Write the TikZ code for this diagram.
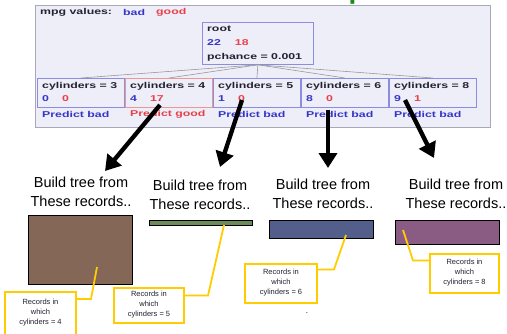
\documentclass[tikz,border=0pt]{standalone}
\usepackage{fontspec}
\setmainfont{Liberation Sans}
\newfontfamily\panelfont[FakeStretch=1.45]{Liberation Sans}
\usetikzlibrary{arrows.meta,calc}
\definecolor{panelbg}{HTML}{EEEEF8}
\definecolor{panelborder}{HTML}{A8A8B8}
\definecolor{cblue}{HTML}{3535C8}
\definecolor{cred}{HTML}{E8404A}
\definecolor{bblue}{HTML}{8C8CE0}
\definecolor{bred}{HTML}{E89898}
\definecolor{dtext}{HTML}{222233}
\definecolor{titlegreen}{HTML}{1A8A1A}
\definecolor{rbrown}{HTML}{856758}
\definecolor{rgreen}{HTML}{6B8C5A}
\definecolor{rblue}{HTML}{545E8A}
\definecolor{rpurple}{HTML}{8A5C84}
\definecolor{cyellow}{HTML}{FFCC00}
\tikzset{
  ptext/.style={font=\panelfont\bfseries\fontsize{8.5}{10}\selectfont, inner sep=0, anchor=west, text=dtext},
  cbox/.style={draw=bblue, line width=0.8pt, fill=panelbg, minimum width=87pt, minimum height=29pt, anchor=north west, inner sep=0},
  rbox/.style={draw=bred, line width=0.8pt, fill=panelbg, minimum width=87pt, minimum height=29pt, anchor=north west, inner sep=0},
  tline/.style={draw=gray!80, line width=0.6pt},
  bigarrow/.style={line width=4.3pt, -{Triangle[length=15pt,width=18pt]}},
  buildlbl/.style={align=center, font=\fontsize{14.5}{19}\selectfont, inner sep=0},
  recbox/.style={draw=black, line width=0.8pt, anchor=north west, inner sep=0},
  callout/.style={draw=cyellow, line width=2pt, fill=white, align=center, inner sep=0, font=\fontsize{7.5}{10}\selectfont, text=dtext},
  leader/.style={draw=cyellow, line width=1.8pt}
}
\begin{document}
\begin{tikzpicture}[x=1pt,y=-1pt]
\useasboundingbox (0,0) rectangle (507,333);
\clip (0,0) rectangle (507,333);
% panel
\node[draw=panelborder, line width=0.8pt, fill=panelbg, minimum width=455pt, minimum height=122pt, anchor=north west, inner sep=0] (panel) at (35,5) {};
\node[anchor=base, font=\bfseries\fontsize{28}{28}\selectfont, text=titlegreen, inner sep=0] (title) at (263,-1.5) {Recursion Step};
\node[ptext] (mpg) at (40,12.5) {mpg values:};
\node[ptext, text=cblue] (mbad) at (123,12.5) {bad};
\node[ptext, text=cred] (mgood) at (156,12.5) {good};
% root
\node[draw=bblue, line width=0.8pt, fill=panelbg, minimum width=111pt, minimum height=42pt, anchor=north west, inner sep=0] (root) at (202,22) {};
\node[ptext] (rootl) at (207,29) {root};
\node[ptext] (rootc) at (207,43) {\textcolor{cblue}{22}\hspace{14pt}\textcolor{cred}{18}};
\node[ptext] (rootp) at (207,57) {pchance = 0.001};
% children
\node[cbox] (c3) at (37,78) {};
\node[rbox] (c4) at (125,78) {};
\node[cbox] (c5) at (213,78) {};
\node[cbox] (c6) at (301,78) {};
\node[cbox] (c8) at (389,78) {};
\foreach \n in {c3,c4,c5,c6,c8} \draw[tline] (root.south) -- (\n.north);
\node[ptext] (t3) at (42,86) {cylinders = 3};
\node[ptext] (n3) at (42,99) {\textcolor{cblue}{0}\hspace{13pt}\textcolor{cred}{0}};
\node[ptext, text=cblue] (p3) at (42,114) {Predict bad};
\node[ptext] (t4) at (130,86) {cylinders = 4};
\node[ptext] (n4) at (130,99) {\textcolor{cblue}{4}\hspace{13pt}\textcolor{cred}{17}};
\node[ptext, text=cred] (p4) at (130,114) {Predict good};
\node[ptext] (t5) at (218,86) {cylinders = 5};
\node[ptext] (n5) at (218,99) {\textcolor{cblue}{1}\hspace{13pt}\textcolor{cred}{0}};
\node[ptext, text=cblue] (p5) at (218,114) {Predict bad};
\node[ptext] (t6) at (306,86) {cylinders = 6};
\node[ptext] (n6) at (306,99) {\textcolor{cblue}{8}\hspace{13pt}\textcolor{cred}{0}};
\node[ptext, text=cblue] (p6) at (306,114) {Predict bad};
\node[ptext] (t8) at (394,86) {cylinders = 8};
\node[ptext] (n8) at (394,99) {\textcolor{cblue}{9}\hspace{13pt}\textcolor{cred}{1}};
\node[ptext, text=cblue] (p8) at (394,114) {Predict bad};
% arrows
\coordinate (a4s) at (160,105); \coordinate (a4e) at (105,171);
\coordinate (a5s) at (242,100); \coordinate (a5e) at (220,167);
\coordinate (a6s) at (328,110); \coordinate (a6e) at (328,168);
\coordinate (a8s) at (405,100); \coordinate (a8e) at (434,158);
\draw[bigarrow] (a4s) -- (a4e);
\draw[bigarrow] (a5s) -- (a5e);
\draw[bigarrow] (a6s) -- (a6e);
\draw[bigarrow] (a8s) -- (a8e);
% build labels
\node[buildlbl] (b4) at (81,192) {Build tree from\\These records..};
\node[buildlbl] (b5) at (200,195) {Build tree from\\These records..};
\node[buildlbl] (b6) at (323,194) {Build tree from\\These records..};
\node[buildlbl] (b8) at (456,194) {Build tree from\\These records..};
% record rectangles
\node[recbox, fill=rbrown, minimum width=104pt, minimum height=69pt] (r4) at (28,215) {};
\node[recbox, fill=rgreen, minimum width=103pt, minimum height=5pt] (r5) at (149,220) {};
\node[recbox, fill=rblue, minimum width=104pt, minimum height=18pt] (r6) at (269,220) {};
\node[recbox, fill=rpurple, minimum width=104pt, minimum height=24pt] (r8) at (395,220) {};
% callouts
\node[callout, minimum width=71pt, minimum height=50pt] (cl4) at (40.5,317) {Records in\\which\\cylinders = 4\\\mbox{}};
\node[callout, minimum width=70pt, minimum height=35pt] (cl5) at (149,305) {Records in\\which\\cylinders = 5};
\node[callout, minimum width=72pt, minimum height=39pt] (cl6) at (281,283) {Records in\\which\\cylinders = 6};
\node[callout, minimum width=69pt, minimum height=39pt] (cl8) at (464.5,273) {Records in\\which\\cylinders = 8};
\coordinate (q4) at (97,267);
\coordinate (q5) at (224,225);
\coordinate (q6) at (346,235);
\coordinate (q8) at (403,230);
\draw[leader] ($(cl4.north east)+(0,8)$) -- ++(14,0) -- (q4);
\draw[leader] ($(cl5.north east)+(0,9)$) -- ++(23,0) -- (q5);
\draw[leader] ($(cl6.north east)+(0,7)$) -- ++(16,0) -- (q6);
\draw[leader] ($(cl8.north west)+(0,8)$) -- ++(-16,0) -- (q8);
\node[inner sep=0, font=\fontsize{8}{8}\selectfont] (dot) at (307,313) {.};
\end{tikzpicture}
\end{document}
